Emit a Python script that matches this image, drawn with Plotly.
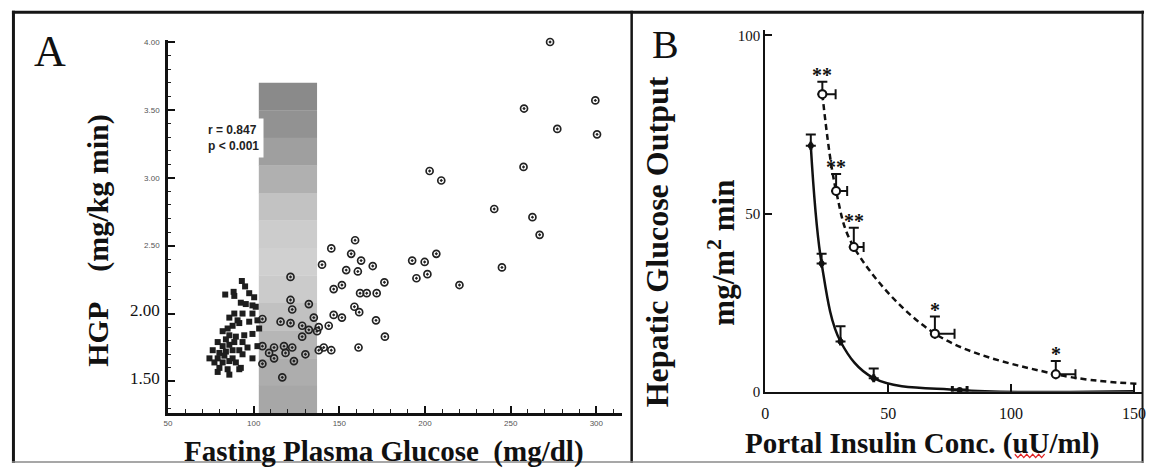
import plotly.graph_objects as go

W, H = 1150, 472

# ---------------- Panel A data ----------------
NORMAL_FPG = [93.1, 95.0, 88.3, 83.4, 88.7, 97.4, 100.3, 92.5, 95.4, 99.3, 101.2, 93.5, 99.3, 88.7,
              85.8, 90.6, 87.7, 84.8, 91.6, 97.4, 102.2, 81.9, 85.8, 83.8, 89.6, 94.5, 99.3, 103.2,
              79.0, 81.9, 85.8, 88.7, 93.5, 96.4, 102.2, 76.1, 80.0, 83.8, 87.7, 91.6, 74.2, 79.0,
              82.9, 87.7, 93.5, 99.3, 77.1, 81.9, 85.8, 89.6, 80.0, 84.8, 92.5, 79.0, 85.8, 91.6]
NORMAL_HGP = [2.24, 2.20, 2.16, 2.14, 2.13, 2.15, 2.12, 2.08, 2.07, 2.06, 2.05, 2.00, 2.00, 2.00,
              1.97, 1.95, 1.91, 1.89, 1.93, 1.94, 1.95, 1.87, 1.84, 1.81, 1.83, 1.84, 1.85, 1.89,
              1.79, 1.76, 1.77, 1.79, 1.79, 1.75, 1.76, 1.73, 1.71, 1.72, 1.73, 1.73, 1.67, 1.67,
              1.69, 1.67, 1.70, 1.67, 1.64, 1.64, 1.65, 1.64, 1.60, 1.59, 1.60, 1.57, 1.55, 1.59]

DIAB_FPG = [121.5, 121.5, 132.2, 122.5, 115.7, 121.5, 105.1, 128.3, 132.2, 137.0, 128.3, 105.1,
            111.9, 117.7, 122.5, 109.0, 111.9, 118.6, 123.5, 130.2, 105.1, 116.7, 138.0,
            159.2, 145.3, 156.9, 162.7, 139.9, 169.5, 154.0, 160.8, 176.3, 192.5, 199.8, 201.4,
            195.0, 146.7, 151.5, 162.1, 166.0, 171.8, 158.8, 146.7, 151.5, 161.6, 135.1, 171.4,
            143.8, 138.0, 176.6, 140.9, 145.3, 161.2,
            206.6, 220.1, 244.9, 240.4, 262.7, 266.9, 202.7, 209.5, 257.5, 257.8, 277.2, 299.4,
            300.4, 273.0]
DIAB_HGP = [2.27, 2.10, 2.07, 2.03, 1.94, 1.93, 1.96, 1.91, 1.88, 1.87, 1.83, 1.76,
            1.75, 1.76, 1.75, 1.71, 1.67, 1.71, 1.65, 1.70, 1.63, 1.53, 1.73,
            2.54, 2.48, 2.44, 2.39, 2.36, 2.35, 2.32, 2.31, 2.23, 2.39, 2.38, 2.29,
            2.26, 2.18, 2.21, 2.15, 2.15, 2.15, 2.05, 1.99, 1.97, 2.01, 1.97, 1.95,
            1.91, 1.90, 1.83, 1.75, 1.73, 1.75,
            2.44, 2.21, 2.34, 2.77, 2.71, 2.58, 3.05, 2.98, 3.08, 3.51, 3.36, 3.57,
            3.32, 4.00]

A_XTICKS = [50, 100, 150, 200, 250, 300]
A_YTICKS = [1.5, 2.0, 2.5, 3.0, 3.5, 4.0]
SHADE_X = [103, 137]
SHADE_TOP = 3.70
STATS_TEXT = "r = 0.847<br>p &lt; 0.001"

# ---------------- Panel B data ----------------
INS_CTRL = [18.5, 22.9, 30.6, 44.1, 79.1]
HGO_CTRL = [69.0, 36.0, 14.1, 3.8, 0.5]
HGO_CTRL_SE = [3.2, 2.7, 4.3, 2.7, 0.0]
INS_CTRL_SE = [0.0, 0.0, 0.0, 0.0, 3.0]
CTRL_END = (150.0, 0.1)

INS_DIAB = [23.2, 28.8, 36.0, 69.0, 118.2]
HGO_DIAB = [83.5, 56.3, 40.6, 16.3, 4.9]
HGO_DIAB_SE = [3.5, 4.8, 5.4, 4.8, 3.7]
INS_DIAB_SE = [5.4, 4.5, 4.0, 8.0, 8.0]
DIAB_END = (152.0, 2.2)
SIG = ["**", "**", "**", "*", "*"]

B_XTICKS = [0, 50, 100, 150]
B_YTICKS = [0, 50, 100]

SERIF = "Liberation Serif"
SANS = "Liberation Sans"


def px(x):
    return x / W


def py(y):
    return 1 - y / H


fig = go.Figure()

# ---- Panel A traces ----
fig.add_trace(go.Scatter(
    x=NORMAL_FPG, y=NORMAL_HGP, mode="markers", xaxis="x", yaxis="y",
    marker=dict(symbol="square", size=6, color="#1e1e1e", line=dict(width=0)),
    cliponaxis=False, showlegend=False))
fig.add_trace(go.Scatter(
    x=DIAB_FPG, y=DIAB_HGP, mode="markers", xaxis="x", yaxis="y",
    marker=dict(symbol="circle-open-dot", size=7, color="#222222", line=dict(width=1.7)),
    cliponaxis=False, showlegend=False))

# ---- Panel B traces ----
fig.add_trace(go.Scatter(
    x=INS_CTRL + [CTRL_END[0]], y=HGO_CTRL + [CTRL_END[1]], mode="lines",
    xaxis="x2", yaxis="y2", line=dict(color="#111111", width=2.5, shape="spline", smoothing=1.0),
    showlegend=False))
fig.add_trace(go.Scatter(
    x=INS_DIAB + [DIAB_END[0]], y=HGO_DIAB + [DIAB_END[1]], mode="lines",
    xaxis="x2", yaxis="y2",
    line=dict(color="#111111", width=2.5, shape="spline", smoothing=1.0, dash="6px,4px"),
    showlegend=False))
fig.add_trace(go.Scatter(
    x=INS_CTRL, y=HGO_CTRL, mode="markers", xaxis="x2", yaxis="y2",
    marker=dict(symbol="circle", size=6, color="#111111"),
    error_y=dict(type="data", array=HGO_CTRL_SE, arrayminus=[0] * len(HGO_CTRL),
                 symmetric=False, width=5, thickness=2, color="#111111"),
    error_x=dict(type="data", array=INS_CTRL_SE, arrayminus=INS_CTRL_SE,
                 symmetric=False, width=4, thickness=3, color="#111111"),
    cliponaxis=False, showlegend=False))
fig.add_trace(go.Scatter(
    x=INS_DIAB, y=HGO_DIAB, mode="markers", xaxis="x2", yaxis="y2",
    marker=dict(symbol="circle", size=8, color="white", line=dict(color="#111111", width=2)),
    error_y=dict(type="data", array=HGO_DIAB_SE, arrayminus=[0] * len(HGO_DIAB),
                 symmetric=False, width=5, thickness=2, color="#111111"),
    error_x=dict(type="data", array=INS_DIAB_SE, arrayminus=[0] * len(INS_DIAB),
                 symmetric=False, width=5, thickness=2, color="#111111"),
    cliponaxis=False, showlegend=False))

# ---- shapes ----
shapes = []
band_cols = ["#8a8a8a", "#929292", "#9f9f9f", "#b0b0b0", "#c2c2c2", "#cccccc",
             "#d0d0d0", "#cbcbcb", "#c1c1c1", "#b6b6b6", "#adadad", "#a7a7a7"]
ybot = 1.266
nb = len(band_cols)
step = (SHADE_TOP - ybot) / nb
for i, c in enumerate(band_cols):
    y1 = SHADE_TOP - i * step
    y0 = y1 - step - 0.002
    shapes.append(dict(type="rect", xref="x", yref="y", x0=SHADE_X[0], x1=SHADE_X[1],
                       y0=y0, y1=y1, fillcolor=c, line=dict(width=0), layer="below"))

shapes += [
    dict(type="line", xref="paper", yref="paper", x0=px(8), x1=px(1147), y0=py(9.5), y1=py(9.5),
         line=dict(color="#151515", width=3)),
    dict(type="line", xref="paper", yref="paper", x0=px(9.5), x1=px(9.5), y0=py(8), y1=py(471),
         line=dict(color="#151515", width=3)),
    dict(type="line", xref="paper", yref="paper", x0=px(1145.5), x1=px(1145.5), y0=py(8), y1=py(471),
         line=dict(color="#151515", width=2)),
    dict(type="line", xref="paper", yref="paper", x0=px(631.5), x1=px(631.5), y0=py(8), y1=py(471),
         line=dict(color="#151515", width=2.5)),
    dict(type="line", xref="paper", yref="paper", x0=px(8), x1=px(1147), y0=py(470), y1=py(470),
         line=dict(color="#8a8a8a", width=1.5)),
]
# red spell-check squiggle under "uU"
pts = []
xx = 1017
k = 0
while xx <= 1049:
    pts.append((px(xx), py(462 if k % 2 == 0 else 465.5)))
    xx += 3
    k += 1
path = "M " + " L ".join(f"{a:.5f},{b:.5f}" for a, b in pts)
shapes.append(dict(type="path", xref="paper", yref="paper", path=path,
                   line=dict(color="#e02020", width=1.2)))

# ---- annotations ----
ann = []


def pann(text, x, y, size, angle=0, family=SERIF):
    return dict(text=text, x=px(x), y=py(y), xref="paper", yref="paper", showarrow=False,
                xanchor="center", yanchor="middle", textangle=angle,
                font=dict(family=family, size=size, color="#111111"))


ann.append(pann("A", 46, 50, 44))
ann.append(pann("B", 666, 42, 40))
ann.append(pann("<b>HGP\u00a0\u00a0\u00a0\u00a0(mg/kg min)</b>", 95, 243, 30, -90))
ann.append(pann("<b>Fasting Plasma Glucose\u00a0\u00a0(mg/dl)</b>", 382, 459, 29))
ann.append(pann("<b>Hepatic Glucose Output</b>", 657, 245, 32, -90))
ann.append(pann("<b>mg/m<sup>2</sup> min</b>", 721, 256, 31, -90))
ann.append(pann("<b>Portal Insulin Conc. (uU/ml)</b>", 924, 451, 29))
ann.append(dict(text="<b>" + STATS_TEXT + "</b>", x=88.5, y=3.29, xref="x", yref="y",
                xanchor="center", yanchor="middle",
                showarrow=False, align="left", bgcolor="white", borderpad=4,
                font=dict(family=SANS, size=12, color="#222222")))
for xi, yi, se, s in zip(INS_DIAB, HGO_DIAB, HGO_DIAB_SE, SIG):
    ann.append(dict(text="<b>" + s + "</b>", x=xi, y=yi + se, xref="x2", yref="y2",
                    xanchor="center", yanchor="middle",
                    showarrow=False, yshift=7, font=dict(family=SERIF, size=20, color="#111111")))

a_yt_text = []
for v in A_YTICKS:
    if v <= 2.0:
        a_yt_text.append(f"<span style='font-size:17px;font-family:Liberation Serif;color:#111'>{v:.2f}</span>")
    else:
        a_yt_text.append(f"{v:.2f}")

fig.update_layout(
    width=W, height=H, margin=dict(l=0, r=0, t=0, b=0),
    paper_bgcolor="white", plot_bgcolor="rgba(0,0,0,0)",
    shapes=shapes, annotations=ann, showlegend=False,
    xaxis=dict(domain=[px(165), px(622)], range=[50, 315.1], anchor="y",
               showline=True, linecolor="#111111", linewidth=2.5, showgrid=False, zeroline=False,
               tickmode="array", tickvals=A_XTICKS, ticks="inside", ticklen=7, tickwidth=1.5,
               tickcolor="#111111", minor=dict(dtick=10, ticks="inside", ticklen=4, tickwidth=1.2,
                                               tickcolor="#222222", showgrid=False),
               tickfont=dict(family=SANS, size=8, color="#555555")),
    yaxis=dict(domain=[py(420), py(38)], range=[1.266, 4.014], anchor="x",
               showline=True, linecolor="#111111", linewidth=2.5, showgrid=False, zeroline=False,
               tickmode="array", tickvals=A_YTICKS, ticktext=a_yt_text, ticks="inside",
               ticklen=7, tickwidth=1.5, tickcolor="#111111",
               minor=dict(dtick=0.1, ticks="inside", ticklen=3, tickwidth=1.2,
                          tickcolor="#222222", showgrid=False),
               tickfont=dict(family=SANS, size=8, color="#555555"), ticklabelstandoff=4),
    xaxis2=dict(domain=[px(766), px(1146)], range=[0, 153.7], anchor="y2",
                showline=True, linecolor="#111111", linewidth=2, showgrid=False, zeroline=False,
                tickmode="array", tickvals=B_XTICKS, ticks="inside", ticklen=8, tickwidth=1.5,
                tickcolor="#111111", tickfont=dict(family=SERIF, size=16, color="#111111"),
                ticklabelstandoff=6, ticklabeloverflow="allow"),
    yaxis2=dict(domain=[py(398), py(28)], range=[0, 101.4], anchor="x2",
                showline=True, linecolor="#111111", linewidth=2, showgrid=False, zeroline=False,
                tickmode="array", tickvals=B_YTICKS, ticks="inside", ticklen=7, tickwidth=1.5,
                tickcolor="#111111", tickfont=dict(family=SERIF, size=15, color="#111111")),
)

fig.write_html("out.html")
